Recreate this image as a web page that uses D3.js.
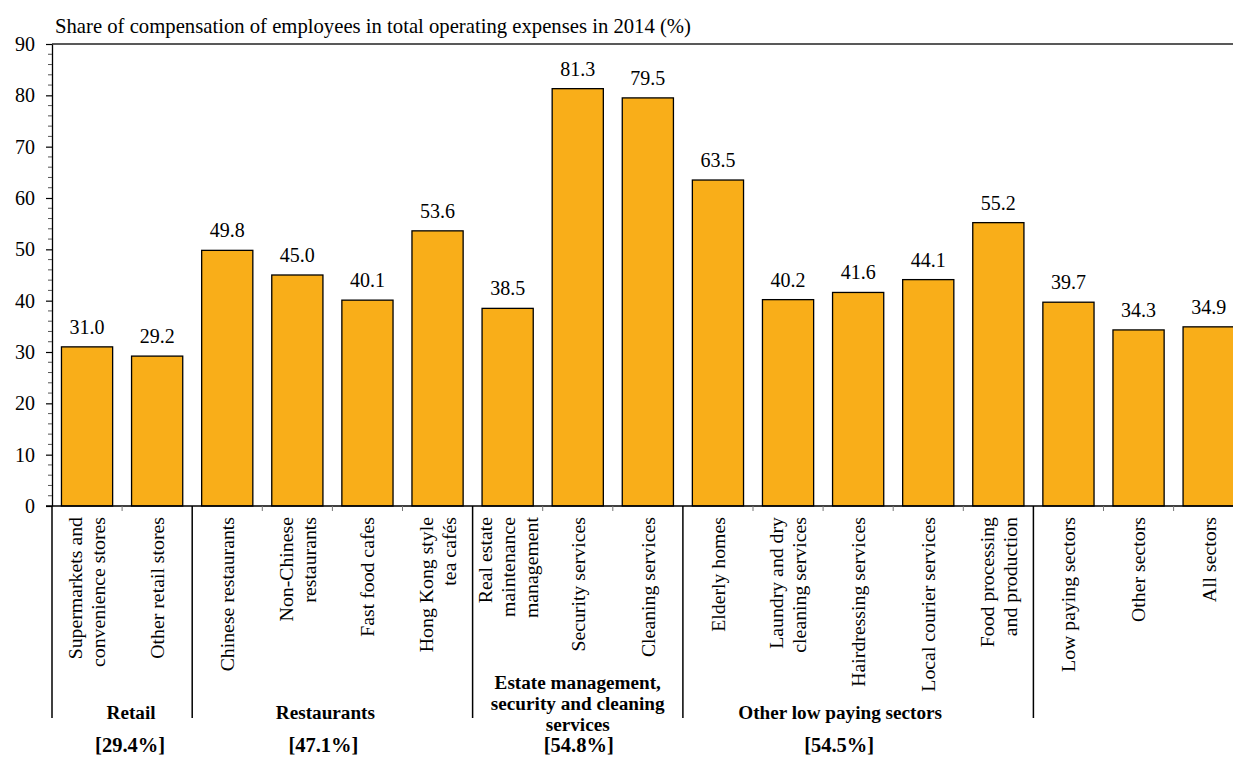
<!DOCTYPE html>
<html>
<head>
<meta charset="utf-8">
<script src="https://cdn.jsdelivr.net/npm/d3@7"></script>
<style>
  html, body { margin: 0; padding: 0; background: #fff; }
  svg { display: block; }
  svg text { font-family: "Liberation Serif", "Times New Roman", Times, "DejaVu Serif", serif !important; fill: #000; }
</style>
</head>
<body>
<svg id="chart" width="1233" height="758" font-family="Liberation Serif, Times New Roman, serif"></svg>
<script>
// ---------- data ----------
const categories = [
  "Supermarkets and\nconvenience stores",
  "Other retail stores",
  "Chinese restaurants",
  "Non-Chinese\nrestaurants",
  "Fast food cafes",
  "Hong Kong style\ntea cafés",
  "Real estate\nmaintenance\nmanagement",
  "Security services",
  "Cleaning services",
  "Elderly homes",
  "Laundry and dry\ncleaning services",
  "Hairdressing services",
  "Local courier services",
  "Food processing\nand production",
  "Low paying sectors",
  "Other sectors",
  "All sectors"
];
const values = [31.0, 29.2, 49.8, 45.0, 40.1, 53.6, 38.5, 81.3, 79.5, 63.5, 40.2, 41.6, 44.1, 55.2, 39.7, 34.3, 34.9];
const groupNames = ["Retail", "Restaurants", "Estate management,\nsecurity and cleaning\nservices", "Other low paying sectors"];
const groupShares = ["[29.4%]", "[47.1%]", "[54.8%]", "[54.5%]"];
const groupStart = [0, 2, 6, 9];   // first category index of each group
const groupEnd = [1, 5, 8, 13];    // last category index of each group
const yTicks = [0, 10, 20, 30, 40, 50, 60, 70, 80, 90];
const titleText = "Share of compensation of employees in total operating expenses in 2014 (%)";

(function () {
// ---------- layout ----------
const svg = d3.select("#chart");
const mLeft = 52, mTop = 44, mBottom = 506, step = 70.1;
const mRight = mLeft + step * categories.length;
const FONT = "Liberation Serif, Times New Roman, serif";

const x = d3.scaleBand()
  .domain(d3.range(categories.length))
  .range([mLeft, mRight])
  .paddingInner(0.27)
  .paddingOuter(0.135);
const y = d3.scaleLinear().domain([0, 90]).range([mBottom, mTop]);

const barColor = "#F9AE19";
const fs = 19.8;

// title
svg.append("text")
  .attr("x", 55).attr("y", 33)
  .attr("font-family", FONT)
  .attr("font-size", 20.7)
  .text(titleText);

// frame (top border)
svg.append("line")
  .attr("x1", mLeft).attr("x2", mRight)
  .attr("y1", y(90)).attr("y2", y(90))
  .attr("stroke", "#222").attr("stroke-width", 1.3);

// bars
svg.append("g").selectAll("rect")
  .data(values)
  .join("rect")
  .attr("x", (d, i) => x(i))
  .attr("y", d => y(d))
  .attr("width", x.bandwidth())
  .attr("height", d => y(0) - y(d))
  .attr("fill", barColor)
  .attr("stroke", "#000")
  .attr("stroke-width", 1.3);

// value labels
svg.append("g").selectAll("text")
  .data(values)
  .join("text")
  .attr("x", (d, i) => x(i) + x.bandwidth() / 2)
  .attr("y", d => y(d) - 13)
  .attr("text-anchor", "middle")
  .attr("font-family", FONT)
  .attr("font-size", 20)
  .text(d => d.toFixed(1));

// y axis
const yAxis = d3.axisLeft(y).tickValues(yTicks).tickSize(6).tickPadding(11).tickSizeOuter(0);
const gy = svg.append("g").attr("transform", `translate(${mLeft},0)`).call(yAxis);
gy.attr("font-family", FONT);
gy.select(".domain").attr("stroke", "#000").attr("stroke-width", 1.3);
gy.selectAll(".tick line").attr("stroke", "#000").attr("stroke-width", 1.2);
gy.selectAll(".tick text").attr("font-size", 20).attr("font-family", FONT);
// minor ticks
svg.append("g").selectAll("line")
  .data(d3.range(0, 91, 2).filter(v => v % 10 !== 0))
  .join("line")
  .attr("x1", mLeft - 4).attr("x2", mLeft)
  .attr("y1", d => y(d)).attr("y2", d => y(d))
  .attr("stroke", "#555").attr("stroke-width", 1);

// x baseline
svg.append("line")
  .attr("x1", mLeft - 6).attr("x2", mRight)
  .attr("y1", y(0)).attr("y2", y(0))
  .attr("stroke", "#000").attr("stroke-width", 1.5);

// category boundary ticks and group separators
const sepIdx = new Set([0, ...groupEnd.map(e => e + 1)]);
const bounds = d3.range(0, categories.length + 1);
svg.append("g").selectAll("line")
  .data(bounds.filter(b => b > 0 && b < categories.length))
  .join("line")
  .attr("x1", b => mLeft + b * x.step()).attr("x2", b => mLeft + b * x.step())
  .attr("y1", y(0)).attr("y2", b => sepIdx.has(b) ? 718 : y(0) + 5)
  .attr("stroke", b => sepIdx.has(b) ? "#000" : "#777")
  .attr("stroke-width", b => sepIdx.has(b) ? 1.5 : 1);
svg.append("line")
  .attr("x1", mLeft).attr("x2", mLeft)
  .attr("y1", y(0)).attr("y2", 718)
  .attr("stroke", "#000").attr("stroke-width", 1.5);

// category labels (rotated)
const lineH = 23;
categories.forEach((c, i) => {
  const lines = c.split("\n");
  const cx = x(i) + x.bandwidth() / 2;
  const t = svg.append("text")
    .attr("transform", `translate(${cx},517) rotate(-90)`)
    .attr("text-anchor", "end")
    .attr("font-family", FONT)
    .attr("font-size", fs);
  lines.forEach((ln, k) => {
    t.append("tspan")
      .attr("x", 0)
      .attr("dy", k === 0 ? (-(lines.length - 1) / 2 * lineH + 0.35 * fs) : lineH)
      .text(ln);
  });
});

// group labels
const nameNudge = [9, -7, 0, -18];
const shareNudge = [8, -9, 1, -19];
groupNames.forEach((g, i) => {
  const x0 = mLeft + groupStart[i] * x.step();
  const x1 = mLeft + (groupEnd[i] + 1) * x.step();
  const cx = (x0 + x1) / 2;
  const lines = g.split("\n");
  const lastBase = 719 + (lines.length > 1 ? 12 : 0);
  const t = svg.append("text")
    .attr("text-anchor", "middle")
    .attr("font-family", FONT)
    .attr("font-weight", "bold")
    .attr("font-size", 19.2);
  lines.forEach((ln, k) => {
    t.append("tspan")
      .attr("x", cx + nameNudge[i])
      .attr("y", lastBase - (lines.length - 1 - k) * 21)
      .text(ln);
  });
  svg.append("text")
    .attr("x", cx + shareNudge[i])
    .attr("y", 752)
    .attr("text-anchor", "middle")
    .attr("font-family", FONT)
    .attr("font-weight", "bold")
    .attr("font-size", 20.5)
    .text(groupShares[i]);
});
})();
</script>
</body>
</html>
